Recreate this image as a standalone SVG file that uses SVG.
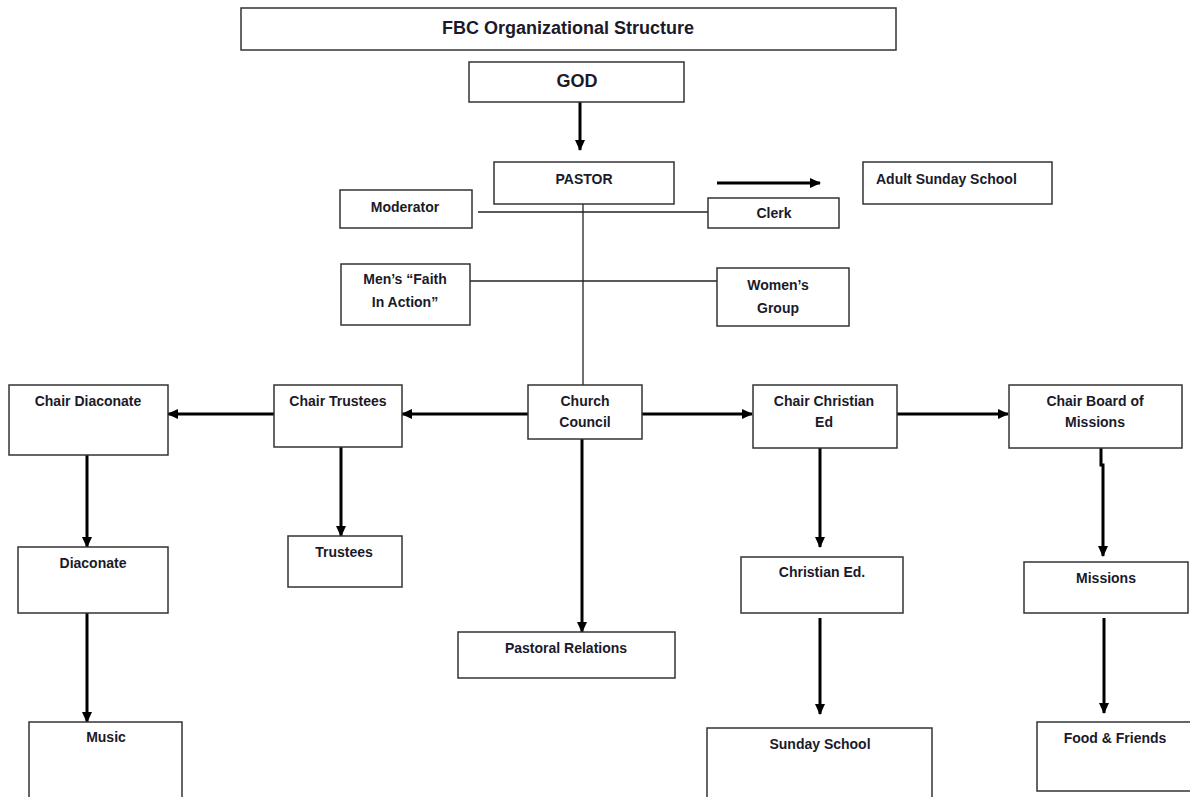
<svg xmlns="http://www.w3.org/2000/svg" width="1190" height="797" viewBox="0 0 1190 797">
<style>
.box{fill:#fff;stroke:#333;stroke-width:1.5}
.t{font-family:"Liberation Sans",Arial,sans-serif;font-weight:bold;font-size:14px;fill:#1a1a2a;text-anchor:middle;dominant-baseline:central}
.big{font-size:18px}
.thin{stroke:#222;stroke-width:1.3;fill:none}
.arr{stroke:#000;stroke-width:3;fill:none}
</style>
<defs>
<marker id="ah" markerUnits="userSpaceOnUse" markerWidth="11" markerHeight="11" refX="10" refY="5.5" orient="auto">
<path d="M0,0.5 L11,5.5 L0,10.5 Z" fill="#000"/>
</marker>
</defs>
<rect width="1190" height="797" fill="#fff"/>
<g id="connectors">
<line class="arr" x1="580" y1="102" x2="580" y2="150" marker-end="url(#ah)"/>
<line class="arr" x1="717" y1="183" x2="820" y2="183" marker-end="url(#ah)"/>
<line class="thin" x1="478" y1="212" x2="708" y2="212"/>
<line class="thin" x1="583" y1="204" x2="583" y2="385"/>
<line class="thin" x1="470" y1="281" x2="717" y2="281"/>
<line class="arr" x1="528" y1="414" x2="402" y2="414" marker-end="url(#ah)"/>
<line class="arr" x1="274" y1="414" x2="168" y2="414" marker-end="url(#ah)"/>
<line class="arr" x1="642" y1="414" x2="752" y2="414" marker-end="url(#ah)"/>
<line class="arr" x1="894" y1="414" x2="1008" y2="414" marker-end="url(#ah)"/>
<line class="arr" x1="87" y1="455" x2="87" y2="547" marker-end="url(#ah)"/>
<line class="arr" x1="87" y1="613" x2="87" y2="722" marker-end="url(#ah)"/>
<line class="arr" x1="341" y1="447" x2="341" y2="536" marker-end="url(#ah)"/>
<line class="arr" x1="582" y1="439" x2="582" y2="632" marker-end="url(#ah)"/>
<line class="arr" x1="820" y1="448" x2="820" y2="547" marker-end="url(#ah)"/>
<line class="arr" x1="820" y1="618" x2="820" y2="714" marker-end="url(#ah)"/>
<path class="arr" d="M1101,448 L1101,465 L1103,465 L1103,556" marker-end="url(#ah)"/>
<line class="arr" x1="1104" y1="618" x2="1104" y2="713" marker-end="url(#ah)"/>
</g>
<g id="title"><rect class="box" x="241" y="8" width="655" height="42"/><text class="t big" x="568" y="28">FBC Organizational Structure</text></g>
<g id="god"><rect class="box" x="469" y="62" width="215" height="40"/><text class="t big" x="577" y="81">GOD</text></g>
<g id="pastor"><rect class="box" x="494" y="162" width="180" height="42"/><text class="t" x="584" y="179">PASTOR</text></g>
<g id="adult-sunday-school"><rect class="box" x="863" y="162" width="189" height="42"/><text class="t" x="876" y="179" style="text-anchor:start">Adult Sunday School</text></g>
<g id="moderator"><rect class="box" x="340" y="190" width="132" height="38"/><text class="t" x="405" y="207">Moderator</text></g>
<g id="clerk"><rect class="box" x="708" y="198" width="131" height="30"/><text class="t" x="774" y="213">Clerk</text></g>
<g id="mens"><rect class="box" x="341" y="264" width="129" height="61"/><text class="t" x="405" y="279">Men’s “Faith</text><text class="t" x="405" y="302">In Action”</text></g>
<g id="womens"><rect class="box" x="717" y="268" width="132" height="58"/><text class="t" x="778" y="285">Women’s</text><text class="t" x="778" y="308">Group</text></g>
<g id="church-council"><rect class="box" x="528" y="385" width="114" height="54"/><text class="t" x="585" y="401">Church</text><text class="t" x="585" y="422">Council</text></g>
<g id="chair-trustees"><rect class="box" x="274" y="385" width="128" height="62"/><text class="t" x="338" y="401">Chair Trustees</text></g>
<g id="chair-diaconate"><rect class="box" x="9" y="385" width="159" height="70"/><text class="t" x="88" y="401">Chair Diaconate</text></g>
<g id="chair-christian-ed"><rect class="box" x="753" y="385" width="144" height="63"/><text class="t" x="824" y="401">Chair Christian</text><text class="t" x="824" y="422">Ed</text></g>
<g id="chair-board-missions"><rect class="box" x="1009" y="385" width="173" height="63"/><text class="t" x="1095" y="401">Chair Board of</text><text class="t" x="1095" y="422">Missions</text></g>
<g id="diaconate"><rect class="box" x="18" y="547" width="150" height="66"/><text class="t" x="93" y="563">Diaconate</text></g>
<g id="trustees"><rect class="box" x="288" y="536" width="114" height="51"/><text class="t" x="344" y="552">Trustees</text></g>
<g id="pastoral-relations"><rect class="box" x="458" y="632" width="217" height="46"/><text class="t" x="566" y="648">Pastoral Relations</text></g>
<g id="christian-ed"><rect class="box" x="741" y="557" width="162" height="56"/><text class="t" x="822" y="572">Christian Ed.</text></g>
<g id="missions"><rect class="box" x="1024" y="562" width="164" height="51"/><text class="t" x="1106" y="578">Missions</text></g>
<g id="music"><rect class="box" x="29" y="722" width="153" height="85"/><text class="t" x="106" y="737">Music</text></g>
<g id="sunday-school"><rect class="box" x="707" y="728" width="225" height="80"/><text class="t" x="820" y="744">Sunday School</text></g>
<g id="food-friends"><rect class="box" x="1037" y="722" width="163" height="69"/><text class="t" x="1115" y="738">Food &amp; Friends</text></g>
</svg>
